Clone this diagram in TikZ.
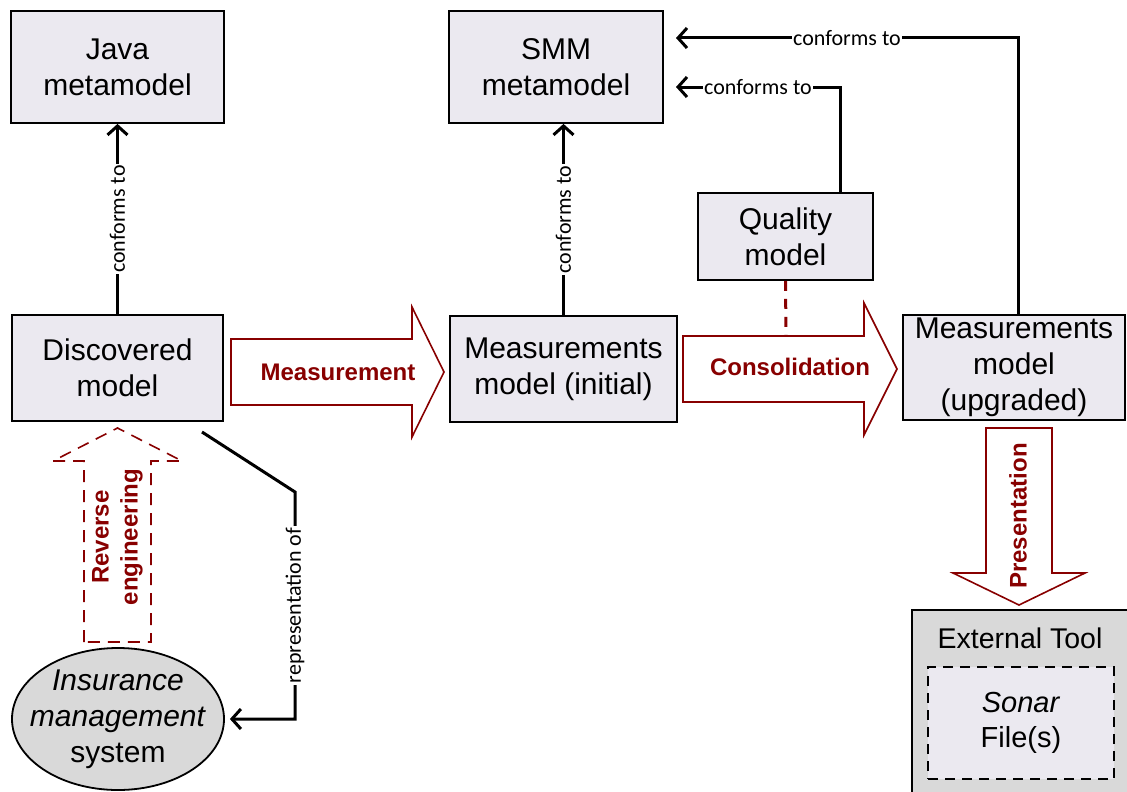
\documentclass[tikz,border=0pt]{standalone}
\usepackage{fontspec}
\setmainfont{Liberation Sans}
\newfontfamily\calibri{Carlito}
\usetikzlibrary{positioning, arrows.meta, shapes.geometric}
\definecolor{boxfill}{RGB}{235,233,240}
\definecolor{toolgray}{RGB}{217,217,217}
\definecolor{darkred}{RGB}{136,0,0}
\tikzset{
    >={Straight Barb[length=9pt,width=20pt]}, % open arrow heads
    model/.style={draw, line width=1.8pt, fill=boxfill, align=center, font=\fontsize{30}{36}\selectfont, inner sep=0pt}, % the model boxes
    conn/.style={line width=3pt}, % the black connectors
    rel/.style={font=\calibri\fontsize{22}{26}\selectfont, fill=white, inner sep=1.5pt}, % text on a connector
    task/.style={draw=darkred, line width=1.6pt, fill=white}, % the big arrows
    tasklabel/.style={text=darkred, font=\bfseries\fontsize{24}{29}\selectfont, align=center},
}
\begin{document}
\begin{tikzpicture}[x=1pt, y=-1pt]
    \useasboundingbox (0,0) rectangle (1127,792);
    % model boxes
    \node[model, minimum width=213pt, minimum height=112pt] (java) at (117.5,67) {Java\\metamodel};
    \node[model, minimum width=211pt, minimum height=106pt] (disc) at (117.5,368) {Discovered\\model};
    \node[model, minimum width=214pt, minimum height=112pt] (smm) at (556,67) {SMM\\metamodel};
    \node[model, minimum width=227pt, minimum height=106pt] (mi) at (563.5,369) {Measurements\\model (initial)};
    \node[model, minimum width=175pt, minimum height=87pt] (qual) at (785.5,236.5) {Quality\\model};
    \node[model, minimum width=222pt, minimum height=105pt] (mu) at (1014,367.5) {Measurements\\model\\(upgraded)};
    \node[ellipse, draw, line width=1.8pt, fill=toolgray, minimum width=212pt, minimum height=142pt, inner sep=0pt] (ims) at (118,719) {};
    \node[align=center, font=\fontsize{30}{36}\selectfont] (imstext) at (ims) {\textit{Insurance}\\\textit{management}\\system};
    \node[draw, line width=1.8pt, fill=toolgray, minimum width=222pt, minimum height=195pt, anchor=north west] (ext) at (911,609) {};
    \node[font=\fontsize{28.5}{34}\selectfont] (exttitle) at (1020,638) {External Tool};
    \node[model, line width=1.4pt, dash pattern=on 10pt off 7pt, minimum width=186pt, minimum height=112pt, font=\fontsize{29}{35}\selectfont] (sonar) at (1021,723) {\textit{Sonar}\\File(s)};
    % ends of the connectors
    \coordinate (smmtip1) at (676,87);
    \coordinate (smmtip2) at (676,38);
    \coordinate (repstart) at (202,432);
    \coordinate (repbend) at (295,492);
    \coordinate (constop) at (786,336);
    % the big arrows
    \draw[task] (231,339) -- (412,339) -- (412,307) -- (444,372) -- (412,437) -- (412,405) -- (231,405) -- cycle;
    \node[tasklabel] (meas) at (338,372) {Measurement};
    \draw[task] (683,336) -- (864,336) -- (864,303) -- (897,369) -- (864,435) -- (864,402) -- (683,402) -- cycle;
    \node[tasklabel] (consol) at (790,367) {Consolidation};
    \draw[task, dash pattern=on 12pt off 8pt] (84,642) -- (84,461) -- (53,461) -- (117.5,428) -- (182,461) -- (151,461) -- (151,642) -- cycle;
    \node[tasklabel, rotate=90] (reveng) at (117.5,537) {Reverse\\engineering};
    \draw[task] (986,428) -- (1052,428) -- (1052,573) -- (1085,573) -- (1019,605) -- (953,573) -- (986,573) -- cycle;
    \node[tasklabel, rotate=90] (present) at (1018,516) {Presentation};
    % connectors
    \draw[conn, ->] (disc) -- node[rel, rotate=90] {conforms to} (java);
    \draw[conn, ->] (mi.north) -- node[rel, rotate=90] {conforms to} (mi.north |- smm.south);
    \draw[conn, ->] ([xshift=54.5pt]qual.north) |- node[rel, pos=0.75] {conforms to} (smmtip1);
    \draw[conn, ->] ([xshift=4pt]mu.north) |- node[rel, pos=0.75] {conforms to} (smmtip2);
    \draw[conn, ->, shorten >=5pt] (repstart) -- (repbend) -- node[rel, rotate=90] {representation of} (repbend |- ims.east) -- (ims.east);
    \draw[darkred, line width=3pt, dash pattern=on 10pt off 8pt] (qual.south) -- (constop);
\end{tikzpicture}
\end{document}
